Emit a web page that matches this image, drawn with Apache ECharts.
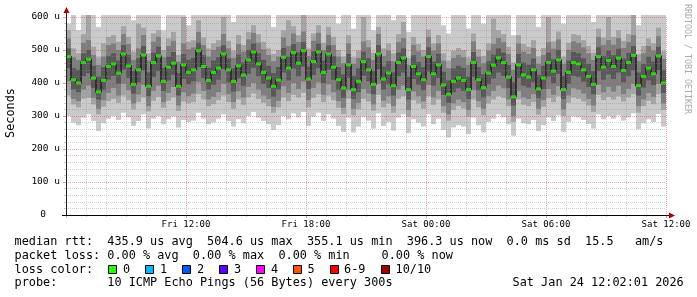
<!DOCTYPE html>
<html><head><meta charset="utf-8">
<script src="https://cdn.jsdelivr.net/npm/echarts@6/dist/echarts.min.js"></script>
<style>html,body{margin:0;padding:0;background:#fff}#c{width:697px;height:297px}</style>
</head><body><div id="c"></div>
<script>
// ---- data ----
// 120 samples, 15 minutes each, from Fri 06:00 to Sat 12:00 (hours since Fri 06:00)
const STEP_H = 0.25;
const xTickHours = [6, 12, 18, 24, 30];
const xTickLabels = ['Fri 12:00', 'Fri 18:00', 'Sat 00:00', 'Sat 06:00', 'Sat 12:00'];
const yTickLabels = ['0', '100 u', '200 u', '300 u', '400 u', '500 u', '600 u'];

// median rtt (microseconds)
const median = [480,410,400,462,472,415,373,408,450,458,
430,488,452,396,440,485,390,462,482,405,
448,460,390,455,432,440,498,450,408,432,
445,488,440,405,452,424,470,494,458,432,
415,390,409,478,445,492,460,498,412,465,
494,432,488,448,410,385,455,380,405,465,
440,396,488,412,430,392,462,476,380,450,
428,410,480,428,455,394,366,405,415,408,
380,462,410,386,430,454,476,462,418,358,
455,425,418,440,382,415,462,436,470,380,
432,462,458,440,420,396,480,448,468,450,
475,438,462,484,392,420,445,428,482,400];
// smoke: sorted ping values (1 = fastest, 10 = slowest)
const p1 = [300,280,272,295,305,285,255,278,292,300,
288,310,296,270,285,305,262,292,300,275,
290,298,265,288,282,286,310,292,275,280,
292,305,285,268,290,278,300,312,295,285,
275,258,272,300,290,308,296,312,270,298,
310,285,305,292,270,252,295,250,268,298,
286,262,308,270,282,256,295,305,248,290,
280,268,305,275,292,258,235,265,272,268,
245,295,272,250,282,292,305,296,275,240,
292,278,275,288,255,272,296,285,302,252,
282,298,296,288,276,262,305,290,300,292,
302,286,296,308,260,278,290,282,306,268];
const p2 = [362,335,326,352,355,335,305,328,345,352,
340,362,348,320,342,356,314,346,358,325,
346,356,315,344,338,342,366,350,330,336,
348,362,342,322,350,334,356,368,352,340,
330,310,326,356,345,364,356,370,326,355,
366,342,362,348,325,306,352,302,320,352,
344,316,364,326,338,310,352,360,298,348,
338,322,360,334,350,310,286,318,330,322,
298,350,326,302,338,350,360,355,330,282,
350,334,330,342,304,328,354,342,360,300,
340,356,352,344,332,312,364,348,358,350,
360,344,356,366,310,330,346,336,366,318];
const p3 = [405,352,345,380,392,355,322,348,370,385,
362,398,378,338,365,395,330,376,392,342,
370,388,332,372,360,368,402,376,350,358,
372,398,366,342,375,356,388,400,380,362,
352,328,346,390,370,400,382,404,348,385,
402,364,396,372,345,325,378,322,340,382,
368,335,398,346,360,330,380,392,318,374,
360,344,394,356,376,330,305,338,350,342,
318,378,345,322,360,376,392,384,350,300,
376,356,352,366,322,348,382,364,390,320,
362,384,380,368,352,332,395,372,388,374,
392,366,382,398,330,350,370,358,398,338];
const p4 = [445,380,372,420,430,385,350,378,410,422,
398,440,415,368,402,438,360,418,436,376,
408,425,362,412,396,405,448,415,380,395,
410,442,402,374,414,392,428,446,420,398,
385,358,380,432,408,444,420,450,382,424,
445,400,440,410,378,355,416,352,372,422,
405,366,442,380,396,362,420,432,350,412,
395,378,435,392,415,364,340,372,384,376,
352,418,378,356,396,414,432,422,385,332,
415,392,386,402,354,382,420,400,428,352,
398,422,418,404,388,366,436,410,426,412,
432,402,420,438,362,386,408,394,438,370];
const p7 = [505,445,440,490,500,452,420,448,482,490,
468,515,485,436,475,512,432,492,510,446,
480,494,430,488,470,476,522,484,446,468,
478,514,474,444,486,462,500,520,490,470,
452,430,448,506,480,518,492,524,450,496,
520,468,514,482,448,426,488,422,444,495,
475,436,515,450,466,432,492,505,420,484,
464,448,508,465,488,434,408,444,452,446,
420,494,448,426,466,486,505,492,455,402,
488,462,455,474,424,452,492,472,500,422,
468,494,490,475,458,436,508,482,498,484,
504,474,492,512,432,458,480,465,510,440];
const p8 = [535,478,470,522,530,485,455,480,515,520,
500,548,518,470,505,545,468,525,540,478,
512,528,465,520,502,508,555,515,480,500,
510,548,505,476,518,495,532,552,522,502,
485,466,480,538,512,550,524,556,482,528,
552,500,546,515,480,460,520,458,476,526,
508,470,548,482,498,466,524,536,455,516,
496,480,540,498,520,468,445,476,485,478,
455,526,480,460,498,518,536,524,488,440,
520,495,488,506,458,485,524,504,532,458,
500,526,522,508,490,470,540,515,530,516,
536,506,524,545,466,490,512,498,542,474];
const p9 = [560,505,490,548,606,510,478,520,540,545,
525,572,540,495,580,568,490,550,560,500,
535,555,485,600,525,530,590,538,505,520,
530,600,528,498,545,515,555,575,548,525,
505,488,500,560,590,572,545,606,505,550,
575,522,570,540,500,480,545,478,498,600,
530,492,570,505,520,490,548,585,476,540,
518,500,562,520,545,490,468,498,506,500,
478,550,502,482,520,595,560,548,510,462,
545,518,510,530,480,506,600,526,556,480,
522,548,545,530,512,492,565,538,600,540,
560,528,548,606,488,512,535,520,568,496];
const p10 = [580,606,560,606,606,606,570,606,606,606,
606,606,606,590,606,606,606,606,606,560,
606,606,606,606,575,606,606,606,606,606,
606,606,606,585,606,606,606,606,606,606,
606,570,606,606,606,606,606,606,606,606,
606,606,606,606,580,606,606,565,606,606,
606,560,606,606,606,590,606,606,555,606,
606,606,606,606,606,575,550,606,606,606,
565,606,606,580,606,606,606,606,606,545,
606,606,606,606,570,606,606,606,606,580,
606,606,606,606,606,585,606,606,606,606,
606,606,606,606,575,606,606,606,606,606];

const smokeColors = ['#cacaca', '#a4a4a4', '#7e7e7e', '#585858'];
const lossLabels = ['0', '1', '2', '3', '4', '5', '6-9', '10/10'];
const lossColors = ['#26ff00', '#00b8ff', '#0059ff', '#5e00ff', '#ff00ff', '#ff5500', '#ff0000', '#a10000'];
const lossBoxX = [108, 145, 182, 219, 256, 293, 330, 381];
const lossTextX = [123, 160, 197, 234, 271, 307.5, 344, 395.5];

const line1 = 'median rtt:  435.9 us avg  504.6 us max  355.1 us min  396.3 us now  0.0 ms sd  15.5   am/s';
const line2a = 'packet loss: 0.00 % avg  0.00 % max  0.00 % min';
const line2b = '0.00 % now';
const line3 = 'loss color:';
const line4 = 'probe:       10 ICMP Echo Pings (56 Bytes) every 300s';
const stamp = 'Sat Jan 24 12:02:01 2026';

// ---- build ----
const MONO = '"DejaVu Sans Mono", monospace';
const smokeData = median.map((m, i) => [(i + 0.5) * STEP_H, p1[i], p2[i], p3[i], p4[i], p7[i], p8[i], p9[i], p10[i]]);
const medData = median.map((m, i) => [(i + 0.5) * STEP_H, m]);

function txt(x, y, s, extra) {
  return Object.assign({type: 'text', x: x, y: y, z: 100, silent: true,
    style: {text: s, font: '11.85px ' + MONO, fill: '#000', align: 'left', verticalAlign: 'middle',
            textAlign: 'left', textVerticalAlign: 'middle'}}, extra || {});
}
const graphics = [
  txt(14.6, 241.7, line1), txt(14.6, 255.6, line2a), txt(381.6, 255.6, line2b),
  txt(14.6, 269.5, line3), txt(14.6, 283.4, line4), txt(512.6, 283.4, stamp),
  {type: 'text', x: 11, y: 113, rotation: Math.PI / 2, z: 100,
   style: {text: 'Seconds', font: '11.85px ' + MONO, fill: '#000', align: 'center', verticalAlign: 'middle', textAlign: 'center', textVerticalAlign: 'middle'}},
  {type: 'text', x: 687, y: 59, rotation: -Math.PI / 2, z: 100,
   style: {text: 'RRDTOOL / TOBI OETIKER', font: '8.3px ' + MONO, fill: '#aaaaaa', align: 'center', verticalAlign: 'middle', textAlign: 'center', textVerticalAlign: 'middle'}},
  {type: 'line', z: 100, shape: {x1: 66.5, y1: 216, x2: 66.5, y2: 12}, style: {stroke: '#222', lineWidth: 1}},
  {type: 'line', z: 100, shape: {x1: 62, y1: 215.5, x2: 670, y2: 215.5}, style: {stroke: '#000', lineWidth: 1}},
  {type: 'polygon', z: 101, shape: {points: [[63.5, 13], [69.5, 13], [66.5, 7]]}, style: {fill: '#a80000'}},
  {type: 'polygon', z: 101, shape: {points: [[669, 212.5], [669, 218.5], [675, 215.5]]}, style: {fill: '#a80000'}}
];
lossLabels.forEach((l, k) => {
  graphics.push({type: 'rect', z: 100, shape: {x: lossBoxX[k] + 0.5, y: 265.5, width: 8, height: 8},
                 style: {fill: lossColors[k], stroke: '#000', lineWidth: 1}});
  graphics.push(txt(lossTextX[k], 269.5, l));
});

const chart = echarts.init(document.getElementById('c'), null, {renderer: 'canvas', width: 697, height: 297});
chart.setOption({
  animation: false,
  backgroundColor: '#fff',
  grid: {left: 66, top: 17, width: 600, height: 198},
  xAxis: {
    type: 'value', min: 0, max: 30, interval: 6, z: 10,
    axisLine: {show: false},
    axisTick: {show: true, length: 3, inside: false, lineStyle: {color: 'rgba(222,48,48,0.5)'}},
    minorTick: {show: true, splitNumber: 6, length: 2, lineStyle: {color: 'rgba(140,140,140,0.45)'}},
    axisLabel: {fontFamily: MONO, fontSize: 9, color: '#000', margin: 5,
      formatter: v => { const k = xTickHours.indexOf(v); return k >= 0 ? xTickLabels[k] : ''; }},
    splitLine: {show: true, lineStyle: {color: 'rgba(222,48,48,0.42)', type: [1, 1], width: 1}},
    minorSplitLine: {show: true, lineStyle: {color: 'rgba(140,140,140,0.38)', type: [1, 1], width: 1}}
  },
  yAxis: {
    type: 'value', min: 0, max: 600, interval: 100, z: 10,
    axisLine: {show: false},
    axisTick: {show: true, length: 3, lineStyle: {color: 'rgba(222,48,48,0.5)'}},
    minorTick: {show: true, splitNumber: 5, length: 2, lineStyle: {color: 'rgba(140,140,140,0.45)'}},
    axisLabel: {fontFamily: MONO, fontSize: 9.5, color: '#000', margin: 6,
      formatter: v => { const k = Math.round(v / 100); return k === 0 ? '{z|' + yTickLabels[0] + '}' : yTickLabels[k]; },
      rich: {z: {fontFamily: MONO, fontSize: 9.5, color: '#000', padding: [0, 14, 0, 0]}}},
    splitLine: {show: true, lineStyle: {color: 'rgba(222,48,48,0.42)', type: [1, 1], width: 1}},
    minorSplitLine: {show: true, lineStyle: {color: 'rgba(140,140,140,0.38)', type: [1, 1], width: 1}}
  },
  series: [
    {
      type: 'custom', z: 2, silent: true, clip: false,
      encode: {x: 0, y: 1},
      data: smokeData,
      renderItem: function (params, api) {
        const t = api.value(0);
        const x0 = api.coord([t - STEP_H / 2, 0])[0];
        const w = api.size([STEP_H, 0])[0];
        const children = [];
        for (let b = 0; b < 4; b++) {
          const lo = api.coord([t, api.value(1 + b)])[1];
          const hi = api.coord([t, api.value(8 - b)])[1];
          children.push({type: 'rect', shape: {x: x0, y: hi, width: w, height: lo - hi},
                         style: {fill: smokeColors[b]}});
        }
        return {type: 'group', children: children};
      }
    },
    {
      type: 'line', z: 3, silent: true, data: medData, step: 'middle', symbol: 'none',
      lineStyle: {color: '#2e2e2e', width: 2}
    },
    {
      type: 'scatter', z: 4, silent: true, data: medData, symbol: 'rect', symbolSize: [5, 3],
      itemStyle: {color: '#26ff00'}
    }
  ],
  graphic: graphics
});
</script>
</body></html>
